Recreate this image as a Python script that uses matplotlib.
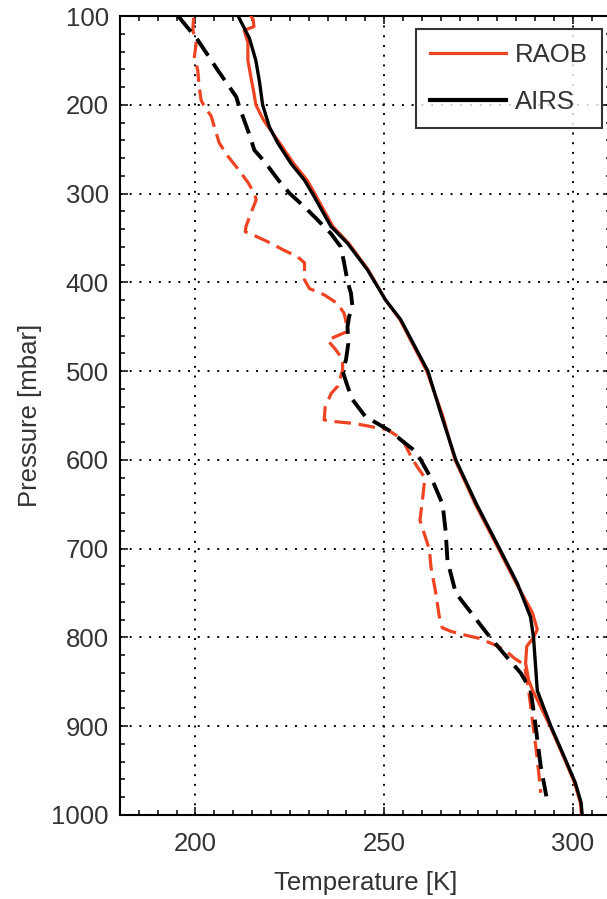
import matplotlib
matplotlib.use("Agg")
import matplotlib.pyplot as plt
from matplotlib.ticker import MultipleLocator
from matplotlib.lines import Line2D

plt.rcParams['font.family'] = ['Liberation Sans', 'DejaVu Sans']

# AIRS retrieved temperature profile (K) vs pressure (mbar)
airs_temp_p = [100, 125, 150, 175, 200, 225, 243, 266, 285, 300, 337, 356, 386, 420,
               442, 500, 550, 600, 650, 700, 739, 777, 800, 830, 860, 900, 935, 964,
               986, 1000]
airs_temp_t = [211.3, 214.3, 216.0, 217.0, 217.8, 219.6, 221.8, 225.3, 228.9, 231.0,
               235.9, 240.3, 245.6, 250.4, 254.4, 261.6, 265.2, 269.0, 274.5, 280.6,
               285.3, 288.8, 289.6, 290.1, 290.6, 294.2, 297.8, 300.7, 302.2, 302.5]

# Radiosonde temperature profile
raob_temp_p = [100, 104, 112, 116, 130, 150, 169, 187, 200, 217, 243, 266, 285, 300,
               337, 356, 386, 420, 442, 500, 550, 600, 650, 700, 739, 772, 791, 800,
               810, 829, 848, 859, 900, 935, 964, 986, 1000]
raob_temp_t = [214.7, 215.3, 215.5, 212.9, 213.9, 213.9, 214.7, 215.5, 216.0, 218.0,
               222.3, 226.0, 229.6, 231.6, 236.4, 240.6, 245.8, 250.4, 254.2, 261.3,
               265.5, 268.8, 274.2, 280.3, 285.0, 289.3, 290.6, 289.6, 287.8, 287.5,
               288.3, 289.3, 294.0, 297.6, 300.5, 302.0, 302.3]

# AIRS dew point profile
airs_dew_p = [100, 127, 161, 191, 202, 236, 251, 264, 285, 300, 315, 326, 345, 360,
              378, 399, 412, 427, 439, 450, 469, 487, 500, 517, 532, 551, 568, 579,
              589, 600, 625, 650, 680, 714, 750, 773, 795, 818, 840, 859, 885, 915,
              945, 979]
airs_dew_t = [195.4, 200.6, 205.9, 210.8, 211.6, 214.5, 215.6, 218.3, 222.0, 225.0,
              228.9, 231.5, 235.9, 238.5, 239.4, 240.3, 241.2, 241.6, 240.7, 240.3,
              240.5, 239.9, 239.0, 240.3, 241.6, 245.0, 251.8, 254.9, 257.9, 259.7,
              263.0, 265.5, 266.3, 266.8, 269.0, 273.2, 277.2, 281.7, 286.2, 288.8,
              289.7, 290.6, 291.5, 293.0]

# Radiosonde dew point profile
raob_dew_p = [102, 116, 131, 146, 161, 180, 195, 202, 213, 225, 243, 258, 273, 288,
              300, 307, 322, 337, 343, 349, 356, 364, 371, 378, 397, 407, 414, 424,
              435, 444, 456, 465, 476, 487, 499, 517, 525, 540, 555, 557, 559, 561,
              564, 566, 577, 596, 608, 620, 640, 668, 701, 720, 750, 776, 789, 793,
              797, 801, 808, 814, 823, 831, 863, 893, 923, 953, 975]
raob_dew_t = [199.5, 199.3, 200.2, 199.7, 200.6, 201.0, 201.5, 202.4, 204.2, 205.0,
              206.3, 208.6, 211.4, 214.0, 215.6, 216.1, 214.7, 213.4, 213.2, 216.5,
              220.0, 223.5, 227.0, 228.9, 228.9, 230.2, 234.1, 237.7, 239.4, 239.9,
              239.9, 235.0, 237.2, 239.0, 239.0, 237.7, 236.0, 234.4, 234.1, 237.2,
              242.1, 244.7, 248.2, 250.9, 254.9, 257.1, 258.8, 260.8, 260.3, 259.5,
              262.0, 262.4, 263.7, 264.6, 265.4, 267.6, 271.1, 275.2, 279.1, 282.0,
              284.4, 287.2, 288.4, 289.3, 290.2, 291.0, 291.5]

legend_labels = ['RAOB', 'AIRS']

RED = '#ee4422'
TXT = '#333333'

W, H = 607, 899
fig = plt.figure(figsize=(W / 100, H / 100), dpi=100)
ax = fig.add_axes([120 / W, 1 - 815 / H, 490.5 / W, 799 / H])

dash = (0, (5.2, 2.4))
ax.plot(raob_dew_t, raob_dew_p, color=RED, lw=2.3, linestyle=dash, zorder=3)
ax.plot(airs_dew_t, airs_dew_p, color='black', lw=2.8, linestyle=dash, zorder=3)
ax.plot(raob_temp_t, raob_temp_p, color=RED, lw=2.3, zorder=4)
ax.plot(airs_temp_t, airs_temp_p, color='black', lw=2.4, zorder=5)

ax.set_xlim(180, 310)
ax.set_ylim(1000, 100)
ax.xaxis.set_major_locator(MultipleLocator(50))
ax.xaxis.set_minor_locator(MultipleLocator(5))
ax.yaxis.set_major_locator(MultipleLocator(100))
ax.yaxis.set_minor_locator(MultipleLocator(20))

ax.grid(True, which='major', color='black', linestyle=(0, (1, 4)), lw=1.4, zorder=1)

ax.tick_params(which='both', direction='in', top=True, right=True, width=1.1,
               colors='black', labelcolor=TXT, labelsize=18.5)
ax.tick_params(which='major', length=6)
ax.tick_params(which='minor', length=3.8)
ax.tick_params(axis='x', pad=12)
ax.tick_params(axis='y', pad=8)
for s in ax.spines.values():
    s.set_linewidth(1.5)

ax.set_xlabel('Temperature [K]', fontsize=18.5, color=TXT, labelpad=11)
ax.set_ylabel('Pressure [mbar]', fontsize=18.5, color=TXT, labelpad=7)

handles = [Line2D([], [], color=RED, lw=2.3), Line2D([], [], color='black', lw=3.0)]
leg = ax.legend(handles, legend_labels, loc='upper right',
                bbox_to_anchor=(602 / W, 1 - 29 / H), bbox_transform=fig.transFigure,
                borderaxespad=0, fontsize=18.5, frameon=True, fancybox=False,
                handlelength=2.95, handletextpad=0.33, labelspacing=0.88,
                borderpad=0.56)
leg.get_frame().set_edgecolor('black')
leg.get_frame().set_linewidth(1.5)
for t in leg.get_texts():
    t.set_color(TXT)

fig.savefig('out.png', dpi=100)
